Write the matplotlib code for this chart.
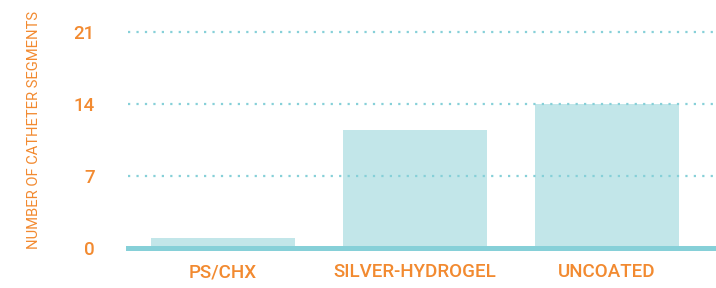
import matplotlib.pyplot as plt

# Datos
categories = ['PS/CHX', 'SILVER-HYDROGEL', 'UNCOATED']
segments = [1, 11.5, 14]
yticks = [0, 7, 14, 21]

orange = '#f28a30'
bar_color = '#c2e6e9'
line_color = '#86d0d8'

plt.rcParams['font.family'] = ['Roboto', 'DejaVu Sans']

fig = plt.figure(figsize=(7.16, 2.88), dpi=100)
ax = fig.add_axes([128 / 716, 40 / 288, 588 / 716, 226.6 / 288])

x = range(len(categories))
ax.bar(x, segments, width=0.75, color=bar_color, zorder=1)

# Lineas de cuadricula punteadas
for t in yticks[1:]:
    ax.axhline(t, color=line_color, linewidth=1.6, linestyle=(0, (1, 2.8)), zorder=2)
ax.axhline(0, color=line_color, linewidth=3.6, zorder=3, clip_on=False)

ax.set_xlim(-0.495, 2.57)
ax.set_ylim(0, 22)
ax.set_xticks(list(x))
ax.set_xticklabels(categories, fontsize=13.5)
ax.set_yticks(yticks)

for s in ax.spines.values():
    s.set_visible(False)
ax.tick_params(axis='both', length=0, colors=orange)
ax.tick_params(axis='y', pad=24, labelsize=13.5)
ax.tick_params(axis='x', pad=11)
for lbl in ax.get_xticklabels() + ax.get_yticklabels():
    lbl.set_fontweight('medium')

ax.set_ylabel('NUMBER OF CATHETER SEGMENTS', color=orange, fontsize=10.6)
ax.yaxis.set_label_coords(-0.148, 0.52)

fig.savefig('out.png', dpi=100)
